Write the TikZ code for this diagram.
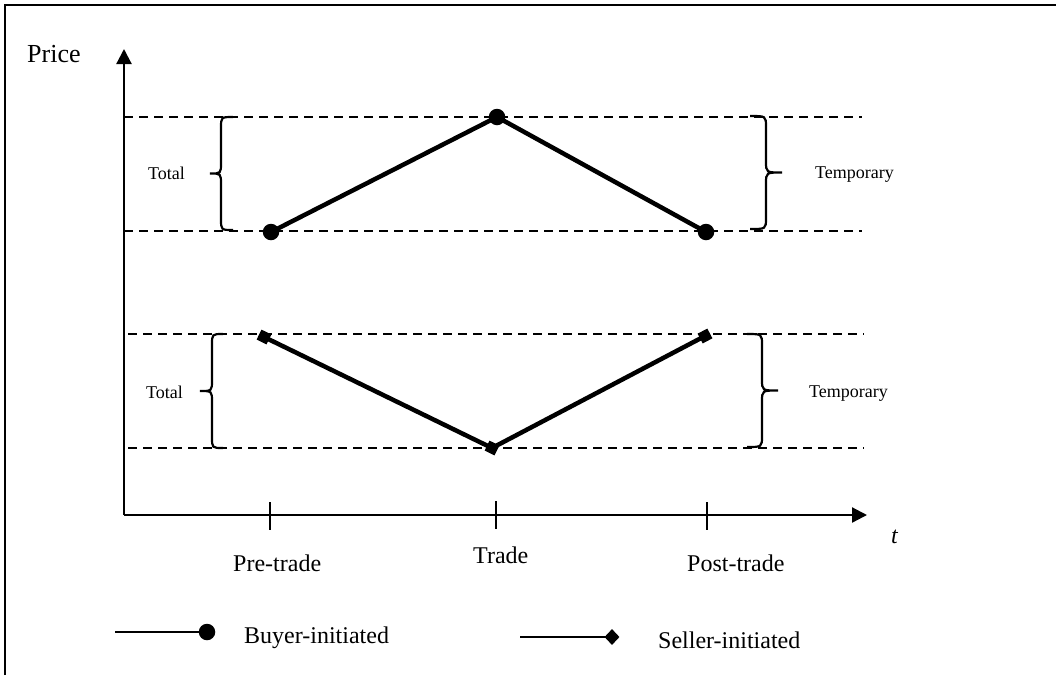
\documentclass[tikz,border=0pt]{standalone}
\usepackage{fontspec}
\setmainfont{Liberation Serif}
\usetikzlibrary{arrows.meta,shapes.geometric}
\newcommand{\drawbrace}[5]{% arms x, body x, tip x, top y, bottom y (pixel, y down)
  \draw[bracestyle] (#1,-#4) .. controls (#2,-#4) .. (#2,{-#4-11})
    -- (#2,{-(#4+#5)/2+11}) .. controls (#2,{-(#4+#5)/2}) .. (#3,{-(#4+#5)/2})
    .. controls (#2,{-(#4+#5)/2}) .. (#2,{-(#4+#5)/2-11})
    -- (#2,{-#5+11}) .. controls (#2,-#5) .. (#1,-#5);}
\tikzset{
  frameline/.style={line width=2.5pt},
  axisline/.style={line width=2.2pt, -{Triangle[length=15pt,width=15pt]}},
  guide/.style={line width=2pt, dash pattern=on 9pt off 6pt},
  dataline/.style={line width=4.5pt},
  legline/.style={line width=2.2pt},
  bdot/.style={circle, fill=black, inner sep=0pt, minimum size=16.5pt},
  sdot/.style={rectangle, fill=black, inner sep=0pt, minimum size=11pt},
  ldiam/.style={diamond, fill=black, inner sep=0pt, minimum width=15pt, minimum height=16pt},
  tickline/.style={line width=2pt},
  bracestyle/.style={line width=2.2pt},
  smalltxt/.style={inner sep=0pt, anchor=base west, font=\fontsize{18}{20}\selectfont},
  bigtxt/.style={inner sep=0pt, anchor=base west, font=\fontsize{24}{28}\selectfont},
}
\begin{document}
\begin{tikzpicture}[x=1pt,y=1pt]
\useasboundingbox (0,0) rectangle (1056,-675);
% frame (only left and top edges visible)
\draw[frameline] (5,-675) -- (5,-5) -- (1056,-5);
% axes
\coordinate (O) at (124,-515);
\coordinate (ytip) at (124,-49);
\coordinate (xtip) at (867,-515);
\draw[axisline] (O) -- (ytip);
\draw[axisline] (O) -- (xtip);
\node[inner sep=0pt, anchor=base west, font=\fontsize{26}{30}\selectfont] (price) at (27,-62) {Price};
\node[inner sep=0pt, anchor=base west, font=\fontsize{24}{28}\selectfont\itshape] (tlab) at (891,-543) {t};
% ticks
\coordinate (t1) at (270,-502); \coordinate (t1b) at (270,-530);
\coordinate (t2) at (496,-501); \coordinate (t2b) at (496,-529);
\coordinate (t3) at (707,-502); \coordinate (t3b) at (707,-530);
\draw[tickline] (t1) -- (t1b);
\draw[tickline] (t2) -- (t2b);
\draw[tickline] (t3) -- (t3b);
\node[bigtxt] (pre) at (233,-571) {Pre-trade};
\node[bigtxt] (trd) at (473,-563) {Trade};
\node[bigtxt] (post) at (687,-571) {Post-trade};
% dashed guides
\coordinate (g1a) at (124,-117); \coordinate (g1b) at (862,-117);
\coordinate (g2a) at (124,-231); \coordinate (g2b) at (862,-231);
\coordinate (g3a) at (128,-334); \coordinate (g3b) at (864,-334);
\coordinate (g4a) at (128,-448); \coordinate (g4b) at (864,-448);
\draw[guide] (g1a) -- (g1b);
\draw[guide] (g2a) -- (g2b);
\draw[guide] (g3a) -- (g3b);
\draw[guide] (g4a) -- (g4b);
% braces
\drawbrace{233}{221}{210}{117}{230}
\drawbrace{223}{212}{200}{334}{448}
\drawbrace{750}{766}{782}{116}{229}
\drawbrace{747}{762}{778}{334}{447}
\node[smalltxt] (tot1) at (148,-179) {Total};
\node[smalltxt] (tot2) at (146,-398) {Total};
\node[smalltxt] (tmp1) at (815,-178) {Temporary};
\node[smalltxt] (tmp2) at (809,-397) {Temporary};
% buyer-initiated path
\node[bdot] (b1) at (271,-232) {};
\node[bdot] (b2) at (497,-117) {};
\node[bdot] (b3) at (706,-232) {};
\draw[dataline] (b1.center) -- (b2.center) -- (b3.center);
% seller-initiated path
\node[sdot, rotate=-26.3] (s1) at (264,-337) {};
\node[sdot, rotate=-26.3] (s2) at (492,-448) {};
\node[sdot, rotate=27.7] (s3) at (705,-336) {};
\draw[dataline] (s1.center) -- (s2.center) -- (s3.center);
% legend
\coordinate (lb) at (115,-632);
\node[bdot] (ldot) at (207,-632) {};
\draw[legline] (lb) -- (ldot.center);
\node[bigtxt] (buyer) at (244,-643) {Buyer-initiated};
\coordinate (ls) at (520,-637);
\node[ldiam] (ldia) at (612,-637) {};
\draw[legline] (ls) -- (ldia.center);
\node[bigtxt] (seller) at (658,-648) {Seller-initiated};
\end{tikzpicture}
\end{document}
